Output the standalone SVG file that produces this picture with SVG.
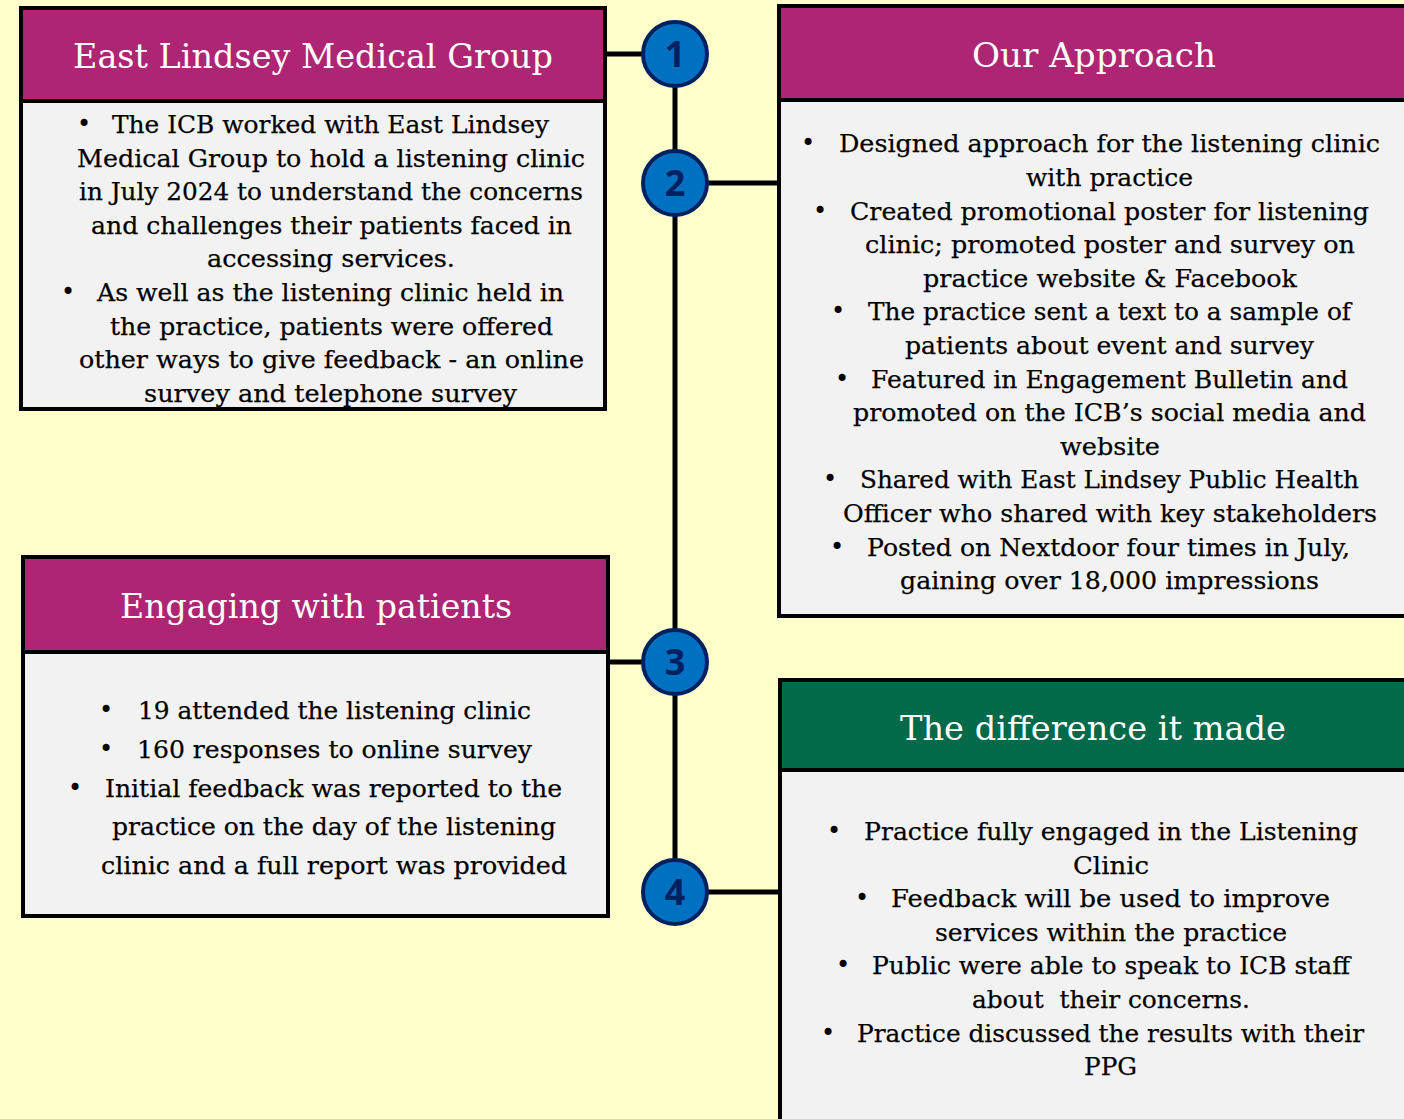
<svg xmlns="http://www.w3.org/2000/svg" width="1404" height="1119" viewBox="0 0 1404 1119">
<style>
.bg{fill:#FFFFCC}
.box{fill:#F2F2F2;stroke:#000;stroke-width:4}
.hm{fill:#AE2573}
.hg{fill:#006A4A}
.sep{stroke:#000;stroke-width:4}
.conn{stroke:#000;stroke-width:5;fill:none}
.num{fill:#0070C0;stroke:#002060;stroke-width:4}
.nt{font-family:"Open Sans","DejaVu Sans",sans-serif;font-weight:bold;font-size:36px;fill:#002060;text-anchor:middle}
.ht{font-family:"DejaVu Serif","Liberation Serif",serif;font-size:33px;fill:#fff}
.t{font-family:"DejaVu Serif","Liberation Serif",serif;font-size:25px;fill:#000;stroke:#000;stroke-width:0.25}
.b{font-family:"DejaVu Sans",sans-serif;font-size:24px;fill:#000}
</style>
<rect class="bg" x="0" y="0" width="1404" height="1119"/>

<g id="connectors">
<line class="conn" x1="605" y1="54" x2="645" y2="54"/>
<line class="conn" x1="675" y1="85" x2="675" y2="862"/>
<line class="conn" x1="705" y1="183" x2="780" y2="183"/>
<line class="conn" x1="608" y1="662" x2="645" y2="662"/>
<line class="conn" x1="705" y1="892" x2="781" y2="892"/>
</g>

<g id="node-east-lindsey">
<rect class="box" x="21" y="8" width="584" height="401"/>
<rect class="hm" x="23" y="10" width="580" height="90"/>
<line class="sep" x1="21" y1="101" x2="605" y2="101"/>
<text class="ht" x="73" y="68" textLength="480" lengthAdjust="spacingAndGlyphs">East Lindsey Medical Group</text>
<text class="b" x="77" y="132">•</text>
<text class="t" x="112" y="133" textLength="437" lengthAdjust="spacingAndGlyphs">The ICB worked with East Lindsey</text>
<text class="t" x="77" y="167" textLength="508" lengthAdjust="spacingAndGlyphs">Medical Group to hold a listening clinic</text>
<text class="t" x="79" y="200" textLength="504" lengthAdjust="spacingAndGlyphs">in July 2024 to understand the concerns</text>
<text class="t" x="91" y="234" textLength="481" lengthAdjust="spacingAndGlyphs">and challenges their patients faced in</text>
<text class="t" x="207" y="267" textLength="248" lengthAdjust="spacingAndGlyphs">accessing services.</text>
<text class="b" x="61" y="300">•</text>
<text class="t" x="97" y="301" textLength="467" lengthAdjust="spacingAndGlyphs">As well as the listening clinic held in</text>
<text class="t" x="110" y="335" textLength="443" lengthAdjust="spacingAndGlyphs">the practice, patients were offered</text>
<text class="t" x="79" y="368" textLength="505" lengthAdjust="spacingAndGlyphs">other ways to give feedback - an online</text>
<text class="t" x="144" y="402" textLength="373" lengthAdjust="spacingAndGlyphs">survey and telephone survey</text>
</g>

<g id="node-our-approach">
<rect class="box" x="779" y="6" width="640" height="610"/>
<rect class="hm" x="781" y="8" width="630" height="91"/>
<line class="sep" x1="779" y1="100" x2="1404" y2="100"/>
<text class="ht" x="972" y="67" textLength="244" lengthAdjust="spacingAndGlyphs">Our Approach</text>
<text class="b" x="801" y="151">•</text>
<text class="t" x="839" y="152" textLength="541" lengthAdjust="spacingAndGlyphs">Designed approach for the listening clinic</text>
<text class="t" x="1026" y="186" textLength="167" lengthAdjust="spacingAndGlyphs">with practice</text>
<text class="b" x="813" y="219">•</text>
<text class="t" x="850" y="220" textLength="519" lengthAdjust="spacingAndGlyphs">Created promotional poster for listening</text>
<text class="t" x="865" y="253" textLength="490" lengthAdjust="spacingAndGlyphs">clinic; promoted poster and survey on</text>
<text class="t" x="923" y="287" textLength="374" lengthAdjust="spacingAndGlyphs">practice website &amp; Facebook</text>
<text class="b" x="831" y="319">•</text>
<text class="t" x="868" y="320" textLength="483" lengthAdjust="spacingAndGlyphs">The practice sent a text to a sample of</text>
<text class="t" x="905" y="354" textLength="409" lengthAdjust="spacingAndGlyphs">patients about event and survey</text>
<text class="b" x="835" y="387">•</text>
<text class="t" x="871" y="388" textLength="477" lengthAdjust="spacingAndGlyphs">Featured in Engagement Bulletin and</text>
<text class="t" x="853" y="421" textLength="513" lengthAdjust="spacingAndGlyphs">promoted on the ICB’s social media and</text>
<text class="t" x="1060" y="455" textLength="100" lengthAdjust="spacingAndGlyphs">website</text>
<text class="b" x="823" y="487">•</text>
<text class="t" x="860" y="488" textLength="499" lengthAdjust="spacingAndGlyphs">Shared with East Lindsey Public Health</text>
<text class="t" x="843" y="522" textLength="534" lengthAdjust="spacingAndGlyphs">Officer who shared with key stakeholders</text>
<text class="b" x="830" y="555">•</text>
<text class="t" x="867" y="556" textLength="483" lengthAdjust="spacingAndGlyphs">Posted on Nextdoor four times in July,</text>
<text class="t" x="900" y="589" textLength="419" lengthAdjust="spacingAndGlyphs">gaining over 18,000 impressions</text>
</g>

<g id="node-engaging">
<rect class="box" x="23" y="557" width="585" height="359"/>
<rect class="hm" x="25" y="559" width="581" height="92"/>
<line class="sep" x1="23" y1="652" x2="608" y2="652"/>
<text class="ht" x="120" y="618" textLength="392" lengthAdjust="spacingAndGlyphs">Engaging with patients</text>
<text class="b" x="99" y="718">•</text>
<text class="t" x="138" y="719" textLength="393" lengthAdjust="spacingAndGlyphs">19 attended the listening clinic</text>
<text class="b" x="99" y="757">•</text>
<text class="t" x="137" y="758" textLength="395" lengthAdjust="spacingAndGlyphs">160 responses to online survey</text>
<text class="b" x="68" y="796">•</text>
<text class="t" x="105" y="797" textLength="457" lengthAdjust="spacingAndGlyphs">Initial feedback was reported to the</text>
<text class="t" x="112" y="835" textLength="444" lengthAdjust="spacingAndGlyphs">practice on the day of the listening</text>
<text class="t" x="101" y="874" textLength="466" lengthAdjust="spacingAndGlyphs">clinic and a full report was provided</text>
</g>

<g id="node-difference">
<rect class="box" x="780" y="680" width="640" height="500"/>
<rect class="hg" x="782" y="682" width="630" height="87"/>
<line class="sep" x1="780" y1="770" x2="1404" y2="770"/>
<text class="ht" x="900" y="740" textLength="386" lengthAdjust="spacingAndGlyphs">The difference it made</text>
<text class="b" x="827" y="839">•</text>
<text class="t" x="864" y="840" textLength="494" lengthAdjust="spacingAndGlyphs">Practice fully engaged in the Listening</text>
<text class="t" x="1073" y="874" textLength="76" lengthAdjust="spacingAndGlyphs">Clinic</text>
<text class="b" x="855" y="906">•</text>
<text class="t" x="891" y="907" textLength="439" lengthAdjust="spacingAndGlyphs">Feedback will be used to improve</text>
<text class="t" x="935" y="941" textLength="352" lengthAdjust="spacingAndGlyphs">services within the practice</text>
<text class="b" x="836" y="973">•</text>
<text class="t" x="872" y="974" textLength="478" lengthAdjust="spacingAndGlyphs">Public were able to speak to ICB staff</text>
<text class="t" x="972" y="1008" textLength="278" lengthAdjust="spacingAndGlyphs" xml:space="preserve">about  their concerns.</text>
<text class="b" x="821" y="1041">•</text>
<text class="t" x="857" y="1042" textLength="507" lengthAdjust="spacingAndGlyphs">Practice discussed the results with their</text>
<text class="t" x="1084" y="1075" textLength="53" lengthAdjust="spacingAndGlyphs">PPG</text>
</g>

<g id="node-1">
<circle class="num" cx="675" cy="54" r="32"/>
<text class="nt" x="675" y="67">1</text>
</g>
<g id="node-2">
<circle class="num" cx="675" cy="183" r="32"/>
<text class="nt" x="675" y="196">2</text>
</g>
<g id="node-3">
<circle class="num" cx="675" cy="662" r="32"/>
<text class="nt" x="675" y="675">3</text>
</g>
<g id="node-4">
<circle class="num" cx="675" cy="892" r="32"/>
<text class="nt" x="675" y="905">4</text>
</g>
</svg>
